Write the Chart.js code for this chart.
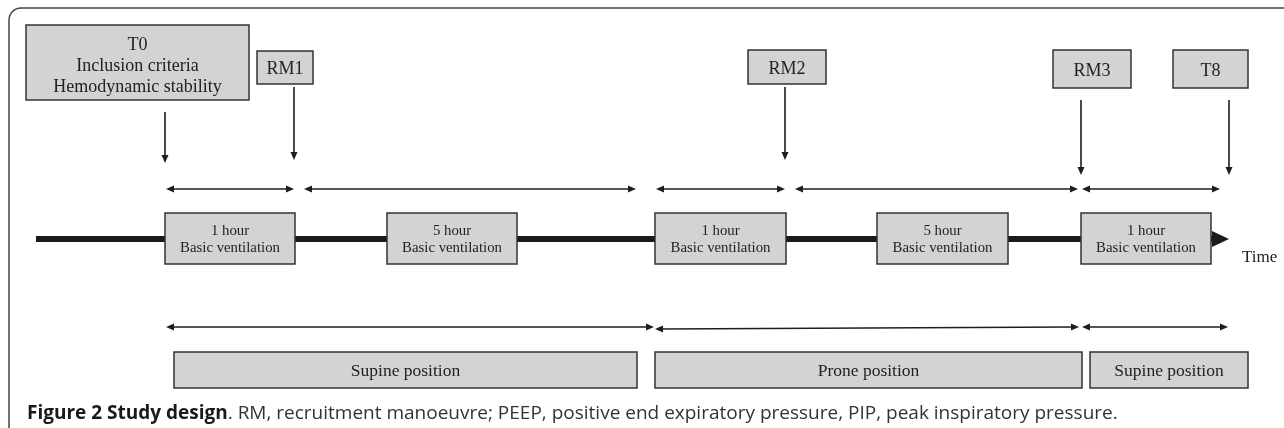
<!DOCTYPE html>
<html lang="en">

<head>
    <meta charset="UTF-8">
    <title>Study design</title>
    <style>
        body {
            margin: 0;
            background: #fff;
        }
    </style>
</head>

<body>
    <canvas id="myChart" width="1284" height="428"></canvas>

    <script src="https://cdn.jsdelivr.net/npm/chart.js"></script>
    <script>
        // events on top (label boxes + down arrows)
        const eventLabels = [['T0', 'Inclusion criteria', 'Hemodynamic stability'], ['RM1'], ['RM2'], ['RM3'], ['T8']];
        const eventX = [165, 294, 785, 1081, 1229];
        const eventBoxLeft = [26, 257, 748, 1053, 1173];
        const eventBoxRight = [249, 313, 826, 1131, 1248];
        const eventBoxTop = [25, 51, 50, 50, 50];
        const eventBoxBottom = [100, 84, 84, 88, 88];
        const eventArrowFrom = [112, 87, 87, 100, 100];
        const eventArrowTo = [163, 160, 160, 175, 175];

        // ventilation phases on the time line
        const phaseLabels = [['1 hour', 'Basic ventilation'], ['5 hour', 'Basic ventilation'], ['1 hour', 'Basic ventilation'], ['5 hour', 'Basic ventilation'], ['1 hour', 'Basic ventilation']];
        const phaseLeft = [165, 387, 655, 877, 1081];
        const phaseRight = [295, 517, 786, 1008, 1211];
        const intervalStart = [166, 304, 656, 795, 1082];
        const intervalEnd = [294, 636, 785, 1078, 1220];

        // positions
        const positionLabels = ['Supine position', 'Prone position', 'Supine position'];
        const positionLeft = [174, 655, 1090];
        const positionRight = [637, 1082, 1248];
        const positionArrowStart = [166, 655, 1082];
        const positionArrowEnd = [654, 1079, 1228];
        const positionArrowY0 = [327, 329, 327];
        const positionArrowY1 = [327, 327, 327];

        const timeLine = [36, 1212];

        const datasets = [];
        // thick time line
        datasets.push({
            data: [{ x: timeLine[0], y: 239 }, { x: timeLine[1], y: 239 }],
            borderColor: '#1a1a1a', borderWidth: 6, pointRadius: 0, showLine: true, borderCapStyle: 'butt'
        });
        for (let i = 0; i < eventX.length; i++) {
            datasets.push({
                data: [{ x: eventX[i], y: eventArrowFrom[i] }, { x: eventX[i], y: eventArrowTo[i] - 6 }],
                borderColor: '#1e1e1e', borderWidth: 1.6, pointRadius: 0, showLine: true
            });
        }
        for (let i = 0; i < intervalStart.length; i++) {
            datasets.push({
                data: [{ x: intervalStart[i] + 6, y: 189 }, { x: intervalEnd[i] - 6, y: 189 }],
                borderColor: '#1e1e1e', borderWidth: 1.6, pointRadius: 0, showLine: true
            });
        }
        for (let i = 0; i < positionArrowStart.length; i++) {
            datasets.push({
                data: [{ x: positionArrowStart[i] + 6, y: positionArrowY0[i] }, { x: positionArrowEnd[i] - 6, y: positionArrowY1[i] }],
                borderColor: '#1e1e1e', borderWidth: 1.6, pointRadius: 0, showLine: true
            });
        }

        function head(ctx, x, y, dir, len, half) {
            // dir: 'r','l','d'
            ctx.beginPath();
            if (dir === 'r') { ctx.moveTo(x, y); ctx.lineTo(x - len, y - half); ctx.lineTo(x - len, y + half); }
            if (dir === 'l') { ctx.moveTo(x, y); ctx.lineTo(x + len, y - half); ctx.lineTo(x + len, y + half); }
            if (dir === 'd') { ctx.moveTo(x, y); ctx.lineTo(x - half, y - len); ctx.lineTo(x + half, y - len); }
            ctx.closePath();
            ctx.fill();
        }

        function box(ctx, xs, ys, l, r, t, b) {
            const x0 = xs.getPixelForValue(l), x1 = xs.getPixelForValue(r);
            const y0 = ys.getPixelForValue(t), y1 = ys.getPixelForValue(b);
            ctx.fillStyle = '#d3d3d3';
            ctx.fillRect(x0, y0, x1 - x0, y1 - y0);
            ctx.strokeStyle = '#333';
            ctx.lineWidth = 1.5;
            ctx.strokeRect(x0, y0, x1 - x0, y1 - y0);
            return [(x0 + x1) / 2, (y0 + y1) / 2];
        }

        const diagramPlugin = {
            id: 'diagram',
            beforeDraw(chart) {
                const ctx = chart.ctx;
                ctx.save();
                ctx.fillStyle = '#fff';
                ctx.fillRect(0, 0, chart.width, chart.height);
                // frame
                ctx.strokeStyle = '#444';
                ctx.lineWidth = 1.5;
                ctx.beginPath();
                ctx.moveTo(9, 440);
                ctx.lineTo(9, 20);
                ctx.arcTo(9, 8, 21, 8, 12);
                ctx.lineTo(1290, 8);
                ctx.stroke();
                ctx.restore();
            },
            afterDatasetsDraw(chart) {
                const ctx = chart.ctx;
                const xs = chart.scales.x, ys = chart.scales.y;
                ctx.save();
                ctx.fillStyle = '#1a1a1a';
                // time line arrow head
                const tx = xs.getPixelForValue(1229), ty = ys.getPixelForValue(239);
                ctx.beginPath();
                ctx.moveTo(tx, ty);
                ctx.lineTo(tx - 17, ty - 8);
                ctx.lineTo(tx - 17, ty + 8);
                ctx.closePath();
                ctx.fill();

                ctx.fillStyle = '#1e1e1e';
                for (let i = 0; i < eventX.length; i++) {
                    head(ctx, xs.getPixelForValue(eventX[i]), ys.getPixelForValue(eventArrowTo[i]), 'd', 8, 3.5);
                }
                for (let i = 0; i < intervalStart.length; i++) {
                    head(ctx, xs.getPixelForValue(intervalStart[i]), ys.getPixelForValue(189), 'l', 8, 3.5);
                    head(ctx, xs.getPixelForValue(intervalEnd[i]), ys.getPixelForValue(189), 'r', 8, 3.5);
                }
                for (let i = 0; i < positionArrowStart.length; i++) {
                    head(ctx, xs.getPixelForValue(positionArrowStart[i]), ys.getPixelForValue(positionArrowY0[i]), 'l', 8, 3.5);
                    head(ctx, xs.getPixelForValue(positionArrowEnd[i]), ys.getPixelForValue(positionArrowY1[i]), 'r', 8, 3.5);
                }

                ctx.textAlign = 'center';
                ctx.textBaseline = 'middle';
                // event boxes
                for (let i = 0; i < eventLabels.length; i++) {
                    const c = box(ctx, xs, ys, eventBoxLeft[i], eventBoxRight[i], eventBoxTop[i], eventBoxBottom[i]);
                    ctx.fillStyle = '#222';
                    ctx.font = '18px "Liberation Serif"';
                    const lines = eventLabels[i];
                    for (let k = 0; k < lines.length; k++) {
                        ctx.fillText(lines[k], c[0], c[1] + (k - (lines.length - 1) / 2) * 21 + (lines.length > 1 ? 4 : 2));
                    }
                }
                // phase boxes
                for (let i = 0; i < phaseLabels.length; i++) {
                    const c = box(ctx, xs, ys, phaseLeft[i], phaseRight[i], 213, 264);
                    ctx.fillStyle = '#222';
                    ctx.font = '14.8px "Liberation Serif"';
                    ctx.fillText(phaseLabels[i][0], c[0], c[1] - 7);
                    ctx.fillText(phaseLabels[i][1], c[0], c[1] + 10);
                }
                // position boxes
                for (let i = 0; i < positionLabels.length; i++) {
                    const c = box(ctx, xs, ys, positionLeft[i], positionRight[i], 352, 388);
                    ctx.fillStyle = '#222';
                    ctx.font = '17.5px "Liberation Serif"';
                    ctx.fillText(positionLabels[i], c[0], c[1] + 1);
                }
                // Time label
                ctx.textAlign = 'left';
                ctx.font = '17px "Liberation Serif"';
                ctx.fillText('Time', xs.getPixelForValue(1242), ys.getPixelForValue(258));

                // caption
                ctx.textBaseline = 'alphabetic';
                const cx = 27, cy = 419;
                ctx.font = 'bold 19px "Open Sans"';
                ctx.fillStyle = '#1a1a1a';
                const bold = 'Figure 2 Study design';
                ctx.fillText(bold, cx, cy);
                const w = ctx.measureText(bold).width;
                ctx.font = '19px "Open Sans"';
                ctx.fillStyle = '#333';
                ctx.fillText('. RM, recruitment manoeuvre; PEEP, positive end expiratory pressure, PIP, peak inspiratory pressure.', cx + w, cy);
                ctx.restore();
            }
        };

        const ctx = document.getElementById('myChart').getContext('2d');
        const myChart = new Chart(ctx, {
            type: 'scatter',
            data: { datasets: datasets },
            options: {
                responsive: false,
                animation: false,
                layout: { padding: 0 },
                plugins: { legend: { display: false }, tooltip: { enabled: false } },
                scales: {
                    x: { type: 'linear', min: 0, max: 1284, display: false },
                    y: { type: 'linear', min: 0, max: 428, reverse: true, display: false }
                }
            },
            plugins: [diagramPlugin]
        });
    </script>

</body>

</html>
